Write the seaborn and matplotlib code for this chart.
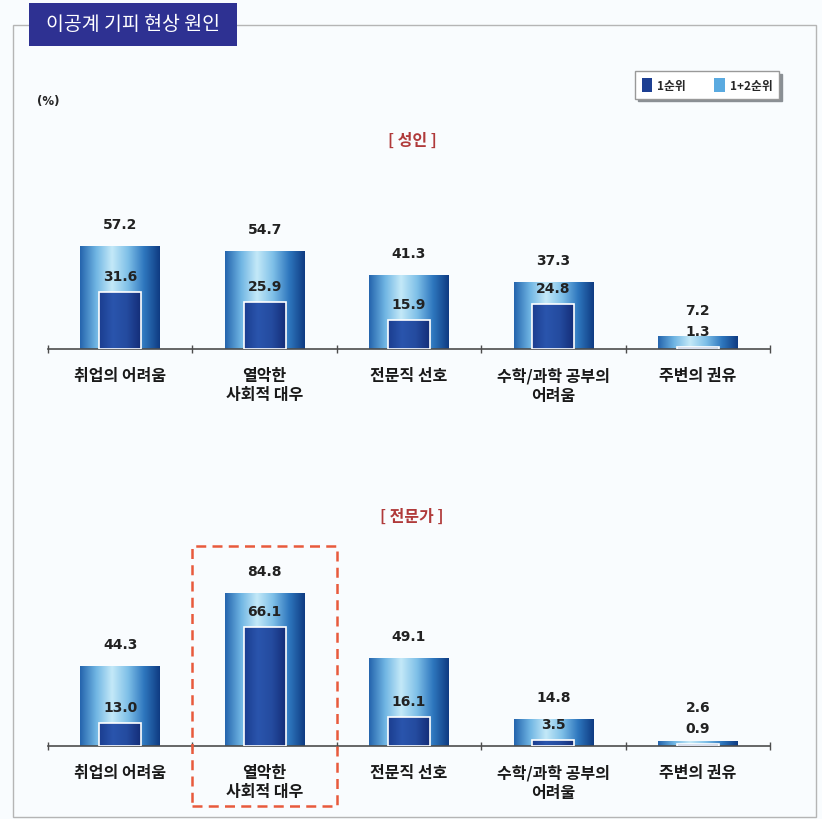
import numpy as np
import pandas as pd
import matplotlib
matplotlib.use('Agg')
import matplotlib.pyplot as plt
import seaborn as sns
from matplotlib.colors import LinearSegmentedColormap
from matplotlib.patches import Rectangle, Patch

# data
categories_adult = ['취업의 어려움', '열악한\n사회적 대우', '전문직 선호', '수학/과학 공부의\n어려움', '주변의 권유']
categories_expert = ['취업의 어려움', '열악한\n사회적 대우', '전문직 선호', '수학/과학 공부의\n어려울', '주변의 권유']
adult_rank1 = [31.6, 25.9, 15.9, 24.8, 1.3]
adult_rank12 = [57.2, 54.7, 41.3, 37.3, 7.2]
expert_rank1 = [13.0, 66.1, 16.1, 3.5, 0.9]
expert_rank12 = [44.3, 84.8, 49.1, 14.8, 2.6]
legend_labels = ['1순위', '1+2순위']

sns.set_theme(style='white')
plt.rcParams['font.family'] = ['Noto Sans CJK KR', 'DejaVu Sans']

W, H = 822, 820
PX_PER_UNIT = 1.8  # axes are 180 px tall for 0..100
fig = plt.figure(figsize=(W / 100, H / 100), dpi=100)
bg = '#f9fcfe'
fig.patch.set_facecolor(bg)


def fx(px):
    return px / W


def fy(py):
    return 1 - py / H


outer_cmap = LinearSegmentedColormap.from_list(
    'outer', ['#2464ad', '#6fb5e3', '#c4e9f8', '#7fc0e8', '#2f78bf', '#0f3b82'])
inner_cmap = LinearSegmentedColormap.from_list(
    'inner', ['#1b3d8f', '#2a55ad', '#244b9f', '#142d78'])
grad = np.linspace(0, 1, 256).reshape(1, -1)


def draw_panel(ax, cats, r12, r1):
    df = pd.DataFrame({'cat': cats, 'r12': r12, 'r1': r1})
    sns.barplot(data=df, x='cat', y='r12', width=0.55, color='#4a95d2',
                saturation=1, ax=ax)
    n_outer = len(ax.patches)
    sns.barplot(data=df, x='cat', y='r1', width=0.29, color='#1d3f92',
                saturation=1, ax=ax)

    patches = list(ax.patches)
    for i, p in enumerate(patches):
        x, w, h = p.get_x(), p.get_width(), p.get_height()
        outer = i < n_outer
        cmap = outer_cmap if outer else inner_cmap
        z = 2 if outer else 4
        p.set_facecolor('none')
        p.set_edgecolor('none' if outer else 'white')
        p.set_linewidth(1.2)
        p.set_zorder(z + 0.5)
        im = ax.imshow(grad, cmap=cmap, extent=(x, x + w, 0, h), aspect='auto',
                       origin='lower', interpolation='bicubic', zorder=z)
        im.set_clip_path(p)

    # value labels: inner first, outer kept clear of it
    for j in range(n_outer):
        po, pi = patches[j], patches[n_outer + j]
        cx = po.get_x() + po.get_width() / 2
        inner_px = pi.get_height() * PX_PER_UNIT + 16
        outer_px = max(po.get_height() * PX_PER_UNIT + 22, inner_px + 21)
        for val, ypx in [(pi.get_height(), inner_px), (po.get_height(), outer_px)]:
            ax.annotate(f'{val:.1f}', xy=(cx, 0), xytext=(0, ypx * 0.72),
                        textcoords='offset points', ha='center', va='center',
                        fontsize=10, fontweight='bold', family='DejaVu Sans',
                        color='#222222', zorder=6)

    ax.set_xlim(-0.5, len(cats) - 0.5)
    ax.set_ylim(0, 100)
    ax.set_xlabel('')
    ax.set_ylabel('')
    ax.set_yticks([])
    ax.set_facecolor('none')
    for s in ['top', 'left', 'right']:
        ax.spines[s].set_visible(False)
    ax.spines['bottom'].set_color('#4d4d4d')
    ax.spines['bottom'].set_linewidth(1.2)
    ax.set_xticks(np.arange(-0.5, len(cats), 1), minor=True)
    ax.tick_params(axis='x', which='major', length=0, pad=13, labelsize=11.5,
                   labelcolor='#1a1a1a')
    ax.tick_params(axis='x', which='minor', bottom=True, length=6,
                   direction='inout', color='#4d4d4d', width=1)
    for lbl in ax.get_xticklabels():
        lbl.set_fontweight('bold')
        lbl.set_linespacing(1.25)


ax_top = fig.add_axes([fx(48), fy(350), fx(770) - fx(48), 100 * PX_PER_UNIT / H])
ax_bot = fig.add_axes([fx(48), fy(747), fx(770) - fx(48), 100 * PX_PER_UNIT / H])
draw_panel(ax_top, categories_adult, adult_rank12, adult_rank1)
draw_panel(ax_bot, categories_expert, expert_rank12, expert_rank1)

# highlight box around the second expert category
ax_bot.add_patch(Rectangle((0.5, -33.3), 1.0, 144.4, fill=False,
                           edgecolor='#e85a3c', lw=1.8, ls=(0, (4, 2.5)),
                           clip_on=False, zorder=10))

# outer frame and title box
fig.add_artist(Rectangle((fx(13), fy(818)), fx(816) - fx(13), (818 - 26) / H,
                         transform=fig.transFigure, facecolor='none',
                         edgecolor='#b5b5b5', lw=1, zorder=1))
fig.add_artist(Rectangle((fx(29), fy(47)), fx(237) - fx(29), (47 - 4) / H,
                         transform=fig.transFigure, facecolor='#2e3192',
                         edgecolor='none', zorder=5))
fig.text(fx(133), fy(25), '이공계 기피 현상 원인', color='white', fontsize=14,
         ha='center', va='center', zorder=6)

fig.text(fx(48), fy(101), '(%)', fontsize=8.5, fontweight='bold',
         family='DejaVu Sans', ha='center', va='center')
fig.text(fx(412), fy(141), '[ 성인 ]', fontsize=11.5, fontweight='bold',
         color='#b03a3a', ha='center', va='center')
fig.text(fx(412), fy(517), '[ 전문가 ]', fontsize=11.5, fontweight='bold',
         color='#b03a3a', ha='center', va='center')

handles = [Patch(facecolor='#1d3f92', edgecolor='none'),
           Patch(facecolor='#5aaae0', edgecolor='none')]
leg = fig.legend(handles=handles, labels=legend_labels, loc='center',
                 bbox_to_anchor=(fx(707), fy(86)), ncol=2, frameon=True,
                 shadow={'color': '#8a8f94', 'alpha': 1}, fancybox=False,
                 prop={'size': 8.5, 'weight': 'bold'},
                 handlelength=0.9, handleheight=1.5, handletextpad=0.4,
                 columnspacing=2.4, borderpad=0.55, edgecolor='#999999')
leg.get_frame().set_facecolor('white')

fig.savefig('out.png', dpi=100, facecolor=bg)
